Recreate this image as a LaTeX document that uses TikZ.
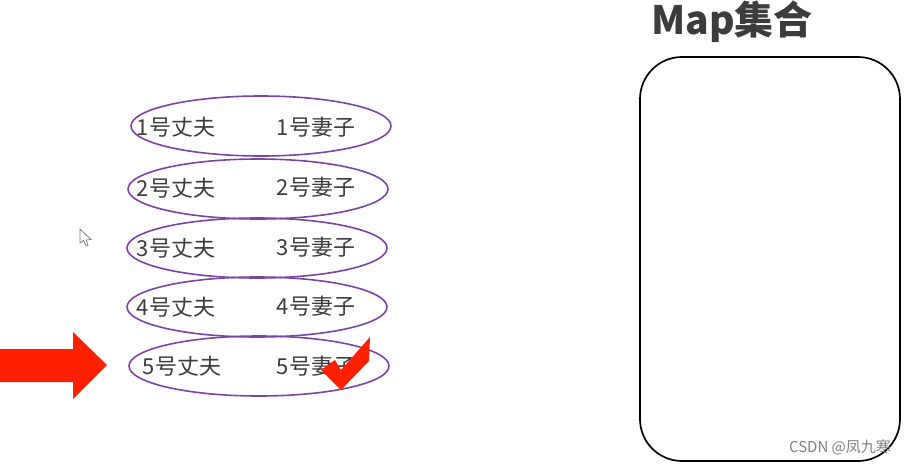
\documentclass[tikz,border=0pt]{standalone}
\usepackage{fontspec}
\setmainfont{Noto Sans CJK SC}
\usepackage{tikz}
\usetikzlibrary{shapes.geometric}
\usetikzlibrary{positioning}
\definecolor{pairpurple}{HTML}{7A44A4}
\definecolor{inkgrey}{HTML}{3C3C3C}
\definecolor{markred}{HTML}{FF2000}
\newcommand{\pairoval}[3]{\node(#1)[pair] at (#2,#3){}}
\newcommand{\pairtext}[3]{\node(#1)[name text] at (#2){#3}}

\begin{document}
\begin{tikzpicture}[
        x=1pt,y=-1pt,
        pair/.style={ellipse,minimum width=260pt,minimum height=60pt,inner sep=0pt,
                     line width=1.6pt,draw=pairpurple},
        name text/.style={inner sep=0pt,font=\fontsize{22}{24}\selectfont,text=inkgrey},
        mapbox/.style={rectangle,minimum width=260pt,minimum height=404pt,inner sep=0pt,
                     rounded corners=42pt,line width=1.7pt,draw=black},
        redmark/.style={fill=markred,draw=none}
      ]
      \useasboundingbox (0,0) rectangle (905,464);

      % Married couples, one oval per row
      \pairoval{row1}{261}{126};
      \pairoval{row2}{258}{189};
      \pairoval{row3}{257}{248};
      \pairoval{row4}{257}{307};
      \pairoval{row5}{259}{366};

      % Row 1 ... row 4: husband and wife
      \pairtext{h1}{176,127}{1号丈夫}; \pairtext{w1}{316,127}{1号妻子};
      \pairtext{h2}{176,188}{2号丈夫}; \pairtext{w2}{316,187}{2号妻子};
      \pairtext{h3}{176,248}{3号丈夫}; \pairtext{w3}{316,247}{3号妻子};
      \pairtext{h4}{176,307}{4号丈夫}; \pairtext{w4}{316,306}{4号妻子};
      \pairtext{h5}{182,366}{5号丈夫}; \pairtext{w5}{316,366}{5号妻子};

      % Pointer at row 5 and the tick over its wife
      \fill[redmark] (0,349) -- (73,349) -- (73,332) -- (107,365) -- (73,399) -- (73,382) -- (0,382) -- cycle;
      \fill[redmark] (321,370) -- (335,360) -- (341,370) -- (370,337) -- (369,361) -- (341,390) -- cycle;

      % Mouse cursor
      \draw[draw=gray,fill=white,line width=0.8pt] (80,229) -- (80,243) -- (83.5,240.5) -- (86,246) -- (88,245) -- (86,240) -- (91,239.5) -- cycle;

      % The map on the right
      \node(map)[mapbox] at (770,259){};
      \node(maptitle)[inner sep=0pt,font=\fontsize{39}{42}\selectfont\bfseries,text=inkgrey] at (732,22){Map集合};
      \node(mark)[inner sep=0pt,font=\fontsize{15}{17}\selectfont,text=gray] at (840,447){CSDN @凤九寒};
    \end{tikzpicture}
\end{document}
